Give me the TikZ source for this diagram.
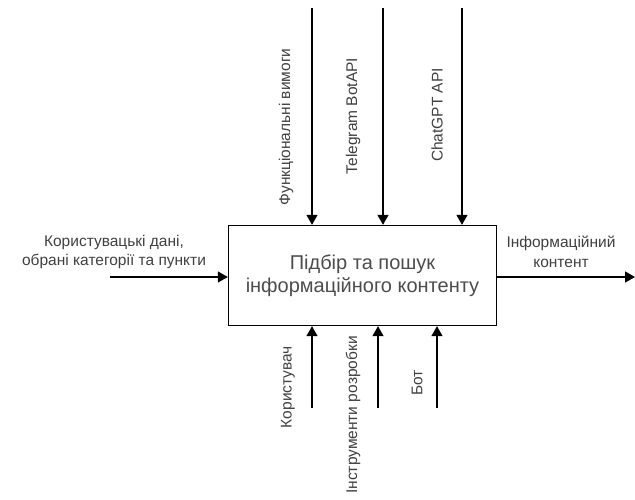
\documentclass[tikz,border=0pt]{standalone}
\usepackage{fontspec}
\setmainfont{Liberation Sans}
\usetikzlibrary{arrows.meta}
\begin{document}
\begin{tikzpicture}[x=1pt,y=-1pt,
  conn/.style={draw=black,line width=1.3pt,-{Triangle[length=10pt,width=11pt]}},
  lbl/.style={font=\fontsize{15.5}{19.5}\selectfont,text=black!75,align=center,inner sep=0pt},
  vlbl/.style={font=\fontsize{15.5}{18}\selectfont,text=black!75,inner sep=0pt,rotate=90}]
\useasboundingbox (0,0) rectangle (635,500);
\node[draw,line width=1.3pt,minimum width=268pt,minimum height=100pt,inner sep=0pt,
  font=\fontsize{20}{23}\selectfont,text=black!70,align=center] (box) at (362.5,275.5)
  {Підбір та пошук\\інформаційного контенту};
% top
\coordinate (t1) at (312,8);
\coordinate (t2) at (383,8);
\coordinate (t3) at (462,8);
\draw[conn] (t1) -- (t1 |- box.north);
\draw[conn] (t2) -- (t2 |- box.north);
\draw[conn] (t3) -- (t3 |- box.north);
% bottom
\coordinate (b1) at (312,408);
\coordinate (b2) at (378,408);
\coordinate (b3) at (437,408);
\draw[conn] (b1) -- (b1 |- box.south);
\draw[conn] (b2) -- (b2 |- box.south);
\draw[conn] (b3) -- (b3 |- box.south);
% left / right
\coordinate (in) at (110,277);
\draw[conn] (in) -- (in -| box.west);
\coordinate (out) at (635,277);
\draw[conn] (out -| box.east) -- (out);
% labels
\node[lbl] (linlbl) at (114,252) {Користувацькі дані,\\обрані категорії та пункти};
\node[lbl] (loutlbl) at (561,252) {Інформаційний\\контент};
\node[vlbl] (lt1) at (286,127) {Функціональні вимоги};
\node[vlbl] (lt2) at (353,116) {Telegram BotAPI};
\node[vlbl] (lt3) at (437,115) {ChatGPT API};
\node[vlbl] (lb1) at (288,387) {Користувач};
\node[vlbl] (lb2) at (353,415) {Інструменти розробки};
\node[vlbl] (lb3) at (417,383) {Бот};
\end{tikzpicture}
\end{document}
